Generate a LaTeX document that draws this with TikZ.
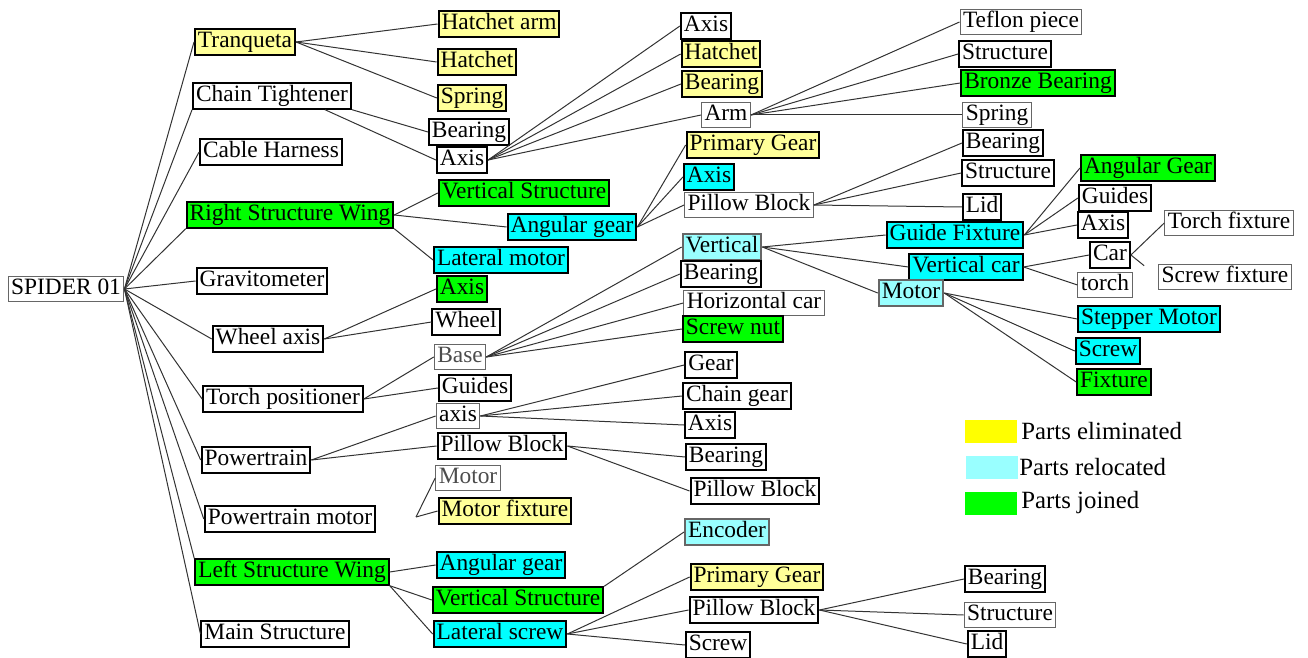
\documentclass[tikz,border=0pt]{standalone}
\usepackage{fontspec}
\setmainfont{Liberation Serif}
\definecolor{elimyellow}{HTML}{FFFF99}
\definecolor{legyellow}{HTML}{FFFF00}
\definecolor{relcyan}{HTML}{00FFFF}
\definecolor{palecyan}{HTML}{99FFFF}
\definecolor{joingreen}{HTML}{00FF00}
\tikzset{
    part/.style={draw, line width=1pt, inner xsep=1.5pt, inner ysep=1pt,
        text height=8.2pt, text depth=2.5pt, font=\fontsize{11.7}{13}\selectfont},
    partthin/.style={part, draw=black!60, line width=0.5pt},
    elim/.style={fill=elimyellow},
    reloc/.style={fill=relcyan},
    pale/.style={fill=palecyan},
    joined/.style={fill=joingreen},
    link/.style={black!80, line width=0.5pt},
    swatch/.style={minimum width=26pt, minimum height=11.5pt, inner sep=0pt},
    legtext/.style={anchor=west, inner sep=0pt, font=\fontsize{12.4}{14}\selectfont}
}
\begin{document}
\begin{tikzpicture}[x=0.5pt, y=-0.5pt]
        \useasboundingbox (0,0) rectangle (1308,658);

        % root and first level
        \node[partthin] (spider) at (66,289) {SPIDER 01};
        \node[part, elim] (tranqueta) at (245,42) {Tranqueta};
        \node[part] (chaintight) at (272,96) {Chain Tightener};
        \node[part] (cableharness) at (271,152) {Cable Harness};
        \node[part, joined] (rightwing) at (290,215) {Right Structure Wing};
        \node[part] (gravitometer) at (262,281) {Gravitometer};
        \node[part] (wheelaxis) at (268,339) {Wheel axis};
        \node[part] (torchpos) at (283,399) {Torch positioner};
        \node[part] (powertrain) at (256,460) {Powertrain};
        \node[part] (ptmotor) at (290,519) {Powertrain motor};
        \node[part, joined] (leftwing) at (292,572) {Left Structure Wing};
        \node[part] (mainstruct) at (275,634) {Main Structure};

        % second level
        \node[part, elim] (hatchetarm) at (499,24) {Hatchet arm};
        \node[part, elim] (hatchet) at (477,62) {Hatchet};
        \node[part, elim] (spring) at (472,98) {Spring};
        \node[part] (ctbearing) at (469,132) {Bearing};
        \node[part] (ctaxis) at (462,160) {Axis};
        \node[part, joined] (rvertstruct) at (524,193) {Vertical Structure};
        \node[part, reloc] (rangular) at (572,227) {Angular gear};
        \node[part, reloc] (latmotor) at (501,260) {Lateral motor};
        \node[part, joined] (waxis) at (462,289) {Axis};
        \node[part] (wheel) at (466,322) {Wheel};
        \node[partthin, text=black!70] (base) at (460,357) {Base};
        \node[part] (tpguides) at (475,388) {Guides};
        \node[partthin] (ptaxis) at (458,416) {axis};
        \node[part] (ptpillow) at (502,446) {Pillow Block};
        \node[partthin, text=black!70] (ptmotorpart) at (468,478) {Motor};
        \node[part, elim] (motorfix) at (505,511) {Motor fixture};
        \node[part, reloc] (langular) at (501,565) {Angular gear};
        \node[part, joined] (lvertstruct) at (518,600) {Vertical Structure};
        \node[part, reloc] (latscrew) at (500,634) {Lateral screw};
        \coordinate (pmfork) at (416,517);

        % third level
        \node[part] (axisaxis) at (706,26) {Axis};
        \node[part, elim] (axhatchet) at (721,54) {Hatchet};
        \node[part, elim] (axbearing) at (722,84) {Bearing};
        \node[partthin] (arm) at (726,115) {Arm};
        \node[part, elim] (primgear) at (753,145) {Primary Gear};
        \node[part, reloc] (agaxis) at (709,177) {Axis};
        \node[partthin] (agpillow) at (749,205) {Pillow Block};
        \node[part, pale, draw=black!60] (vertical) at (722,247) {Vertical};
        \node[part] (basebearing) at (721,274) {Bearing};
        \node[partthin] (horizcar) at (754,303) {Horizontal car};
        \node[part, joined] (screwnut) at (733,329) {Screw nut};
        \node[part] (gear) at (711,365) {Gear};
        \node[part] (chaingear) at (737,396) {Chain gear};
        \node[part] (axaxis) at (710,425) {Axis};
        \node[part] (ppbearing) at (726,457) {Bearing};
        \node[part] (pppillow) at (755,491) {Pillow Block};
        \node[part, pale, draw=black!60] (encoder) at (727,532) {Encoder};
        \node[part, elim] (lsprimgear) at (757,577) {Primary Gear};
        \node[part] (lspillow) at (754,610) {Pillow Block};
        \node[part] (lsscrew) at (718,645) {Screw};

        % fourth level
        \node[partthin] (teflon) at (1021,22) {Teflon piece};
        \node[part] (armstruct) at (1005,54) {Structure};
        \node[part, joined] (bronze) at (1038,83) {Bronze Bearing};
        \node[partthin] (armspring) at (997,115) {Spring};
        \node[part] (pbbearing) at (1003,143) {Bearing};
        \node[part] (pbstruct) at (1008,173) {Structure};
        \node[part] (pblid) at (982,207) {Lid};
        \node[part, reloc] (guidefix) at (955,235) {Guide Fixture};
        \node[part, reloc] (vertcar) at (966,267) {Vertical car};
        \node[part, pale, draw=black!60] (vmotor) at (911,293) {Motor};
        \node[part] (lpbbearing) at (1005,579) {Bearing};
        \node[partthin] (lpbstruct) at (1010,615) {Structure};
        \node[part] (lpblid) at (987,644) {Lid};

        % fifth and sixth level
        \node[part, joined] (gfangular) at (1148,168) {Angular Gear};
        \node[part] (gfguides) at (1115,198) {Guides};
        \node[part] (gfaxis) at (1103,225) {Axis};
        \node[part] (car) at (1110,255) {Car};
        \node[partthin] (torch) at (1105,285) {torch};
        \node[part, reloc] (stepper) at (1149,319) {Stepper Motor};
        \node[part, reloc] (vmscrew) at (1108,351) {Screw};
        \node[part, joined] (vmfixture) at (1114,382) {Fixture};
        \node[partthin] (torchfix) at (1229,223) {Torch fixture};
        \node[partthin] (screwfix) at (1225,277) {Screw fixture};

        % legend
        \node[swatch, fill=legyellow] (legelim) at (991,431) {};
        \node[swatch, fill=palecyan] (legreloc) at (992,467) {};
        \node[swatch, fill=joingreen] (legjoin) at (991,503) {};
        \node[legtext] (legelimtext) at (1021,431) {Parts eliminated};
        \node[legtext] (legreloctext) at (1019,467) {Parts relocated};
        \node[legtext] (legjointext) at (1021,503) {Parts joined};

        % links from the root
        \draw[link] (spider.east) -- (tranqueta.west);
        \draw[link] (spider.east) -- (chaintight.south west);
        \draw[link] (spider.east) -- (cableharness.west);
        \draw[link] (spider.east) -- (rightwing.south west);
        \draw[link] (spider.east) -- (gravitometer.west);
        \draw[link] (spider.east) -- (wheelaxis.west);
        \draw[link] (spider.east) -- (torchpos.west);
        \draw[link] (spider.east) -- (powertrain.west);
        \draw[link] (spider.east) -- (ptmotor.west);
        \draw[link] (spider.east) -- (leftwing.north west);
        \draw[link] (spider.east) -- (mainstruct.west);

        % links of the first level
        \draw[link] (tranqueta.east) -- (hatchetarm.west);
        \draw[link] (tranqueta.east) -- (hatchet.west);
        \draw[link] (tranqueta.east) -- (spring.west);
        \draw[link] (chaintight.south east) -- (ctbearing.west);
        \draw[link] (chaintight.south east) ++(-27,0) -- (ctaxis.west);
        \draw[link] (rightwing.east) -- (rvertstruct.west);
        \draw[link] (rightwing.east) -- (rangular.west);
        \draw[link] (rightwing.south east) -- (latmotor.west);
        \draw[link] (wheelaxis.east) -- (waxis.west);
        \draw[link] (wheelaxis.east) -- (wheel.west);
        \draw[link] (torchpos.east) -- (base.west);
        \draw[link] (torchpos.east) -- (tpguides.west);
        \draw[link] (powertrain.east) -- (ptaxis.west);
        \draw[link] (powertrain.east) -- (ptpillow.west);
        \draw[link] (pmfork) -- (ptmotorpart.west);
        \draw[link] (pmfork) -- (motorfix.west);
        \draw[link] (leftwing.east) -- (langular.west);
        \draw[link] (leftwing.south east) -- (lvertstruct.west);
        \draw[link] (leftwing.south east) -- (latscrew.west);

        % links of the second level
        \draw[link] (ctaxis.east) -- (axisaxis.west);
        \draw[link] (ctaxis.east) -- (axhatchet.west);
        \draw[link] (ctaxis.east) -- (axbearing.west);
        \draw[link] (ctaxis.east) -- (arm.west);
        \draw[link] (rangular.east) -- (primgear.west);
        \draw[link] (rangular.east) -- (agaxis.west);
        \draw[link] (rangular.east) -- (agpillow.west);
        \draw[link] (base.east) -- (vertical.west);
        \draw[link] (base.east) -- (basebearing.west);
        \draw[link] (base.east) -- (horizcar.west);
        \draw[link] (base.east) -- (screwnut.west);
        \draw[link] (ptaxis.east) -- (gear.west);
        \draw[link] (ptaxis.east) -- (chaingear.west);
        \draw[link] (ptaxis.east) -- (axaxis.west);
        \draw[link] (ptpillow.east) -- (ppbearing.west);
        \draw[link] (ptpillow.east) -- (pppillow.west);
        \draw[link] (lvertstruct.north east) -- (encoder.west);
        \draw[link] (latscrew.east) -- (lsprimgear.west);
        \draw[link] (latscrew.east) -- (lspillow.west);
        \draw[link] (latscrew.east) -- (lsscrew.west);

        % links of the third level
        \draw[link] (arm.east) -- (teflon.west);
        \draw[link] (arm.east) -- (armstruct.west);
        \draw[link] (arm.east) -- (bronze.west);
        \draw[link] (arm.east) -- (armspring.west);
        \draw[link] (agpillow.east) -- (pbbearing.west);
        \draw[link] (agpillow.east) -- (pbstruct.west);
        \draw[link] (agpillow.east) -- (pblid.west);
        \draw[link] (vertical.east) -- (guidefix.west);
        \draw[link] (vertical.east) -- (vertcar.west);
        \draw[link] (vertical.east) -- (vmotor.west);
        \draw[link] (lspillow.east) -- (lpbbearing.west);
        \draw[link] (lspillow.east) -- (lpbstruct.west);
        \draw[link] (lspillow.east) -- (lpblid.west);

        % links of the fourth and fifth level
        \draw[link] (guidefix.east) -- (gfangular.west);
        \draw[link] (guidefix.east) -- (gfguides.west);
        \draw[link] (guidefix.east) -- (gfaxis.west);
        \draw[link] (vertcar.east) -- (car.west);
        \draw[link] (vertcar.east) -- (torch.west);
        \draw[link] (vmotor.east) -- (stepper.west);
        \draw[link] (vmotor.east) -- (vmscrew.west);
        \draw[link] (vmotor.east) -- (vmfixture.west);
        \draw[link] (car.east) -- (torchfix.west);
        \draw[link, shorten >=9pt] (car.east) -- (screwfix.west);
    \end{tikzpicture}
\end{document}
